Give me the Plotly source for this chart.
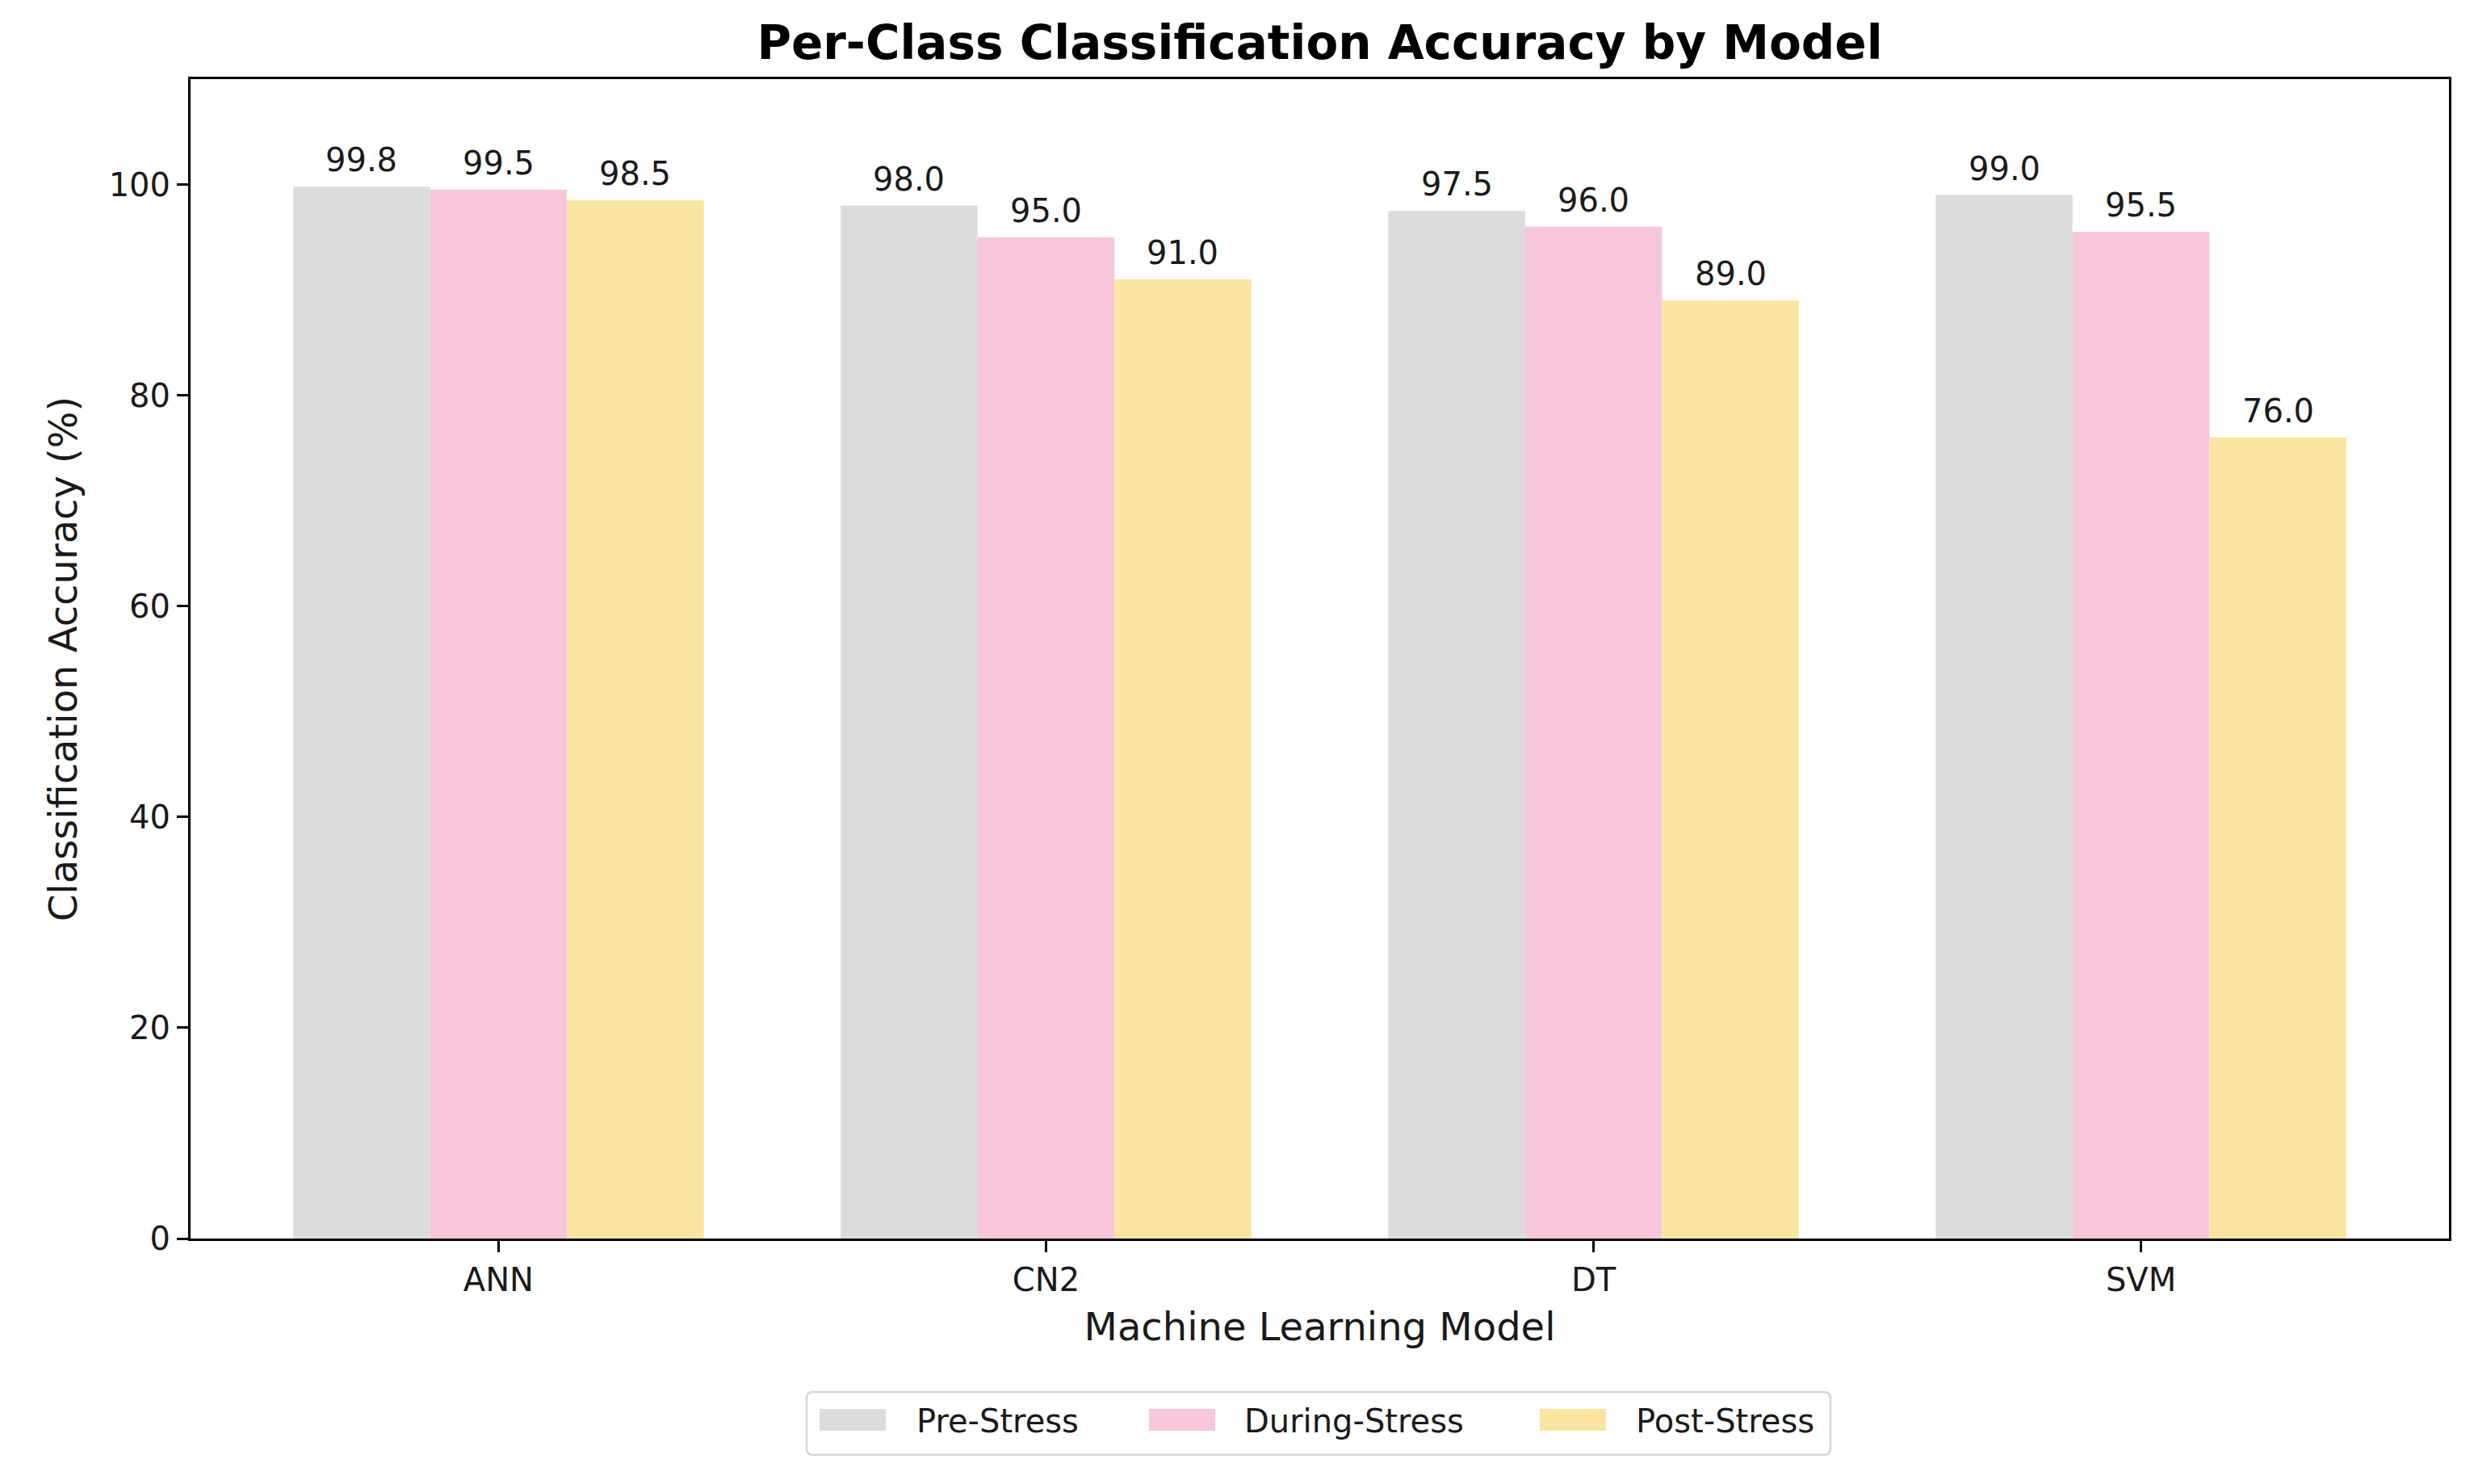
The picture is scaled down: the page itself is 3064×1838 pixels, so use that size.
import plotly.graph_objects as go

models = ["ANN", "CN2", "DT", "SVM"]
pre_stress = [99.8, 98.0, 97.5, 99.0]
during_stress = [99.5, 95.0, 96.0, 95.5]
post_stress = [98.5, 91.0, 89.0, 76.0]
series_names = ["Pre-Stress", "During-Stress", "Post-Stress"]
series_colors = ["#DCDCDC", "#F7C6DB", "#F9E4A2"]
y_ticks = [0, 20, 40, 60, 80, 100]

FONT = "DejaVu Sans"
TXT = "#1a1a1a"
W, H = 3064, 1838
OFF = 8  # page body margin in the browser
# plot area in screen pixels
PL, PR, PT, PB = 236, 3033, 98, 1534
BAR_W = 0.25


def xp(px):
    return (px - PL) / (PR - PL)


def yp(py):
    return (PB - py) / (PB - PT)


series_vals = [pre_stress, during_stress, post_stress]

fig = go.Figure()
for name, vals, col in zip(series_names, series_vals, series_colors):
    fig.add_trace(go.Bar(
        x=models, y=vals, name=name,
        marker=dict(color=col, line=dict(width=0)),
        showlegend=False,
    ))

annotations = []
for k, vals in enumerate(series_vals):
    for i, v in enumerate(vals):
        annotations.append(dict(
            x=i + (k - 1) * BAR_W, y=v, xref="x", yref="y",
            text=f"{v:.1f}", showarrow=False,
            xanchor="center", yanchor="bottom", yshift=8,
            font=dict(family=FONT, size=40, color=TXT),
        ))

# legend (drawn to match the reference's wide patches)
shapes = []
bx0, bx1, by0, by1 = 999, 2267, 1724, 1802
r = 8
X0, X1, Y0, Y1 = xp(bx0), xp(bx1), yp(by1), yp(by0)
rx, ry = r / (PR - PL), r / (PB - PT)
path = (f"M{X0+rx},{Y1} L{X1-rx},{Y1} Q{X1},{Y1} {X1},{Y1-ry} "
        f"L{X1},{Y0+ry} Q{X1},{Y0} {X1-rx},{Y0} L{X0+rx},{Y0} "
        f"Q{X0},{Y0} {X0},{Y0+ry} L{X0},{Y1-ry} Q{X0},{Y1} {X0+rx},{Y1} Z")
shapes.append(dict(type="path", path=path, xref="paper", yref="paper",
                   line=dict(color="#d6d6d6", width=2.5), fillcolor="white", layer="above"))
patch_x = [1015, 1423, 1907]
text_x = [1133, 1539, 2024]
for name, col, px0, tx in zip(series_names, series_colors, patch_x, text_x):
    shapes.append(dict(type="rect", xref="paper", yref="paper",
                       x0=xp(px0), x1=xp(px0 + 82), y0=yp(1772), y1=yp(1745),
                       fillcolor=col, line=dict(width=0), layer="above"))
    annotations.append(dict(x=xp(tx), y=yp(1760), xref="paper", yref="paper",
                            text=name, showarrow=False, xanchor="left", yanchor="middle",
                            font=dict(family=FONT, size=40, color=TXT)))

fig.update_layout(
    width=W, height=H,
    margin=dict(l=PL - OFF, r=W - PR + OFF, t=PT - OFF, b=H - PB + OFF, autoexpand=False),
    paper_bgcolor="white", plot_bgcolor="white",
    barmode="group", bargap=0.25, bargroupgap=0,
    font=dict(family=FONT, size=40, color="black"),
    title=dict(
        text="Per-Class Classification Accuracy by Model",
        font=dict(family=FONT, size=58, color="black", weight="bold"),
        x=0.5, xanchor="center", xref="paper",
        y=1 - (53 - OFF) / H, yanchor="middle", yref="container",
    ),
    showlegend=False,
    annotations=annotations,
    shapes=shapes,
)

fig.update_xaxes(
    type="category", range=[-0.5625, 3.5625],
    showline=True, linecolor="black", linewidth=3, mirror=True,
    ticks="outside", ticklen=14, tickwidth=3, tickcolor="black",
    tickfont=dict(family=FONT, size=40, color=TXT),
    showgrid=False, zeroline=False,
    title=dict(text="Machine Learning Model", font=dict(family=FONT, size=48, color=TXT), standoff=20),
)
fig.update_yaxes(
    range=[0, 110], tickvals=y_ticks,
    showline=True, linecolor="black", linewidth=3, mirror=True,
    ticks="outside", ticklen=14, tickwidth=3, tickcolor="black",
    tickfont=dict(family=FONT, size=40, color=TXT),
    showgrid=False, zeroline=False,
    title=dict(text="Classification Accuracy (%)", font=dict(family=FONT, size=48, color=TXT), standoff=24),
)

fig.write_html("out.html")
